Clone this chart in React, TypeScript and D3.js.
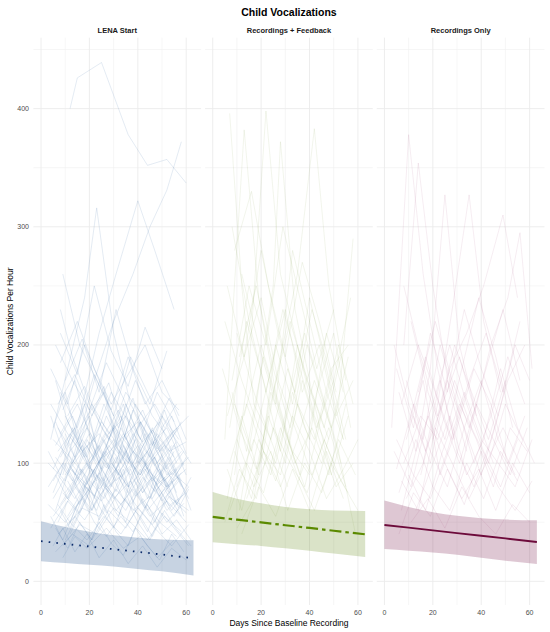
import React from 'react';
import * as d3 from 'd3';

// facet labels and colours
const panels = ['LENA Start', 'Recordings + Feedback', 'Recordings Only'];
const spaghettiColors = ['#4a7bb0', '#8aa64e', '#a24a7c'];
const spaghettiOpacity = [0.3, 0.22, 0.2];
const trendColors = ['#0c2c6b', '#5b8a00', '#6d0b3b'];
const ribbonColors = ['#1f4e8c', '#6b8e23', '#7b1e4e'];

const xTicks = [0, 20, 40, 60];
const yTicks = [0, 100, 200, 300, 400];

// per-child recordings: [day, vocalizations, day, vocalizations, ...]
const lenaKids: number[][] = [
  [12, 400, 15, 426, 25, 439, 36, 378, 44, 352, 52, 357, 60, 337],
  [4, 120, 11, 180, 18, 240, 23, 316, 30, 210, 37, 150, 45, 120, 52, 95, 58, 110],
  [9, 90, 16, 140, 24, 210, 31, 260, 40, 322, 47, 280, 55, 230],
  [6, 60, 14, 110, 22, 170, 30, 220, 38, 260, 45, 300, 52, 331, 58, 372],
  [8, 230, 13, 190, 20, 150, 28, 120, 35, 160, 42, 140, 50, 110, 57, 130],
  [5, 70, 12, 95, 19, 82, 26, 110, 33, 88, 40, 102, 47, 76, 54, 92, 61, 80],
  [7, 130, 14, 105, 21, 150, 28, 125, 35, 140, 42, 118, 49, 135, 56, 100],
  [10, 45, 17, 62, 24, 55, 31, 78, 38, 60, 45, 72, 52, 50, 59, 66],
  [3, 100, 10, 85, 17, 120, 24, 98, 31, 76, 38, 110, 45, 92, 52, 80, 60, 95],
  [8, 160, 15, 130, 22, 175, 29, 145, 36, 190, 43, 150, 50, 170, 57, 140],
  [11, 55, 18, 80, 25, 68, 32, 95, 39, 72, 46, 88, 53, 64, 60, 75],
  [6, 115, 13, 140, 20, 100, 27, 125, 34, 105, 41, 135, 48, 112, 55, 128],
  [9, 75, 16, 58, 23, 90, 30, 70, 37, 85, 44, 60, 51, 78, 58, 55],
  [4, 180, 11, 150, 18, 200, 25, 165, 32, 130, 39, 170, 46, 140, 53, 120],
  [12, 95, 19, 115, 26, 85, 33, 130, 40, 100, 47, 118, 54, 90, 61, 105],
  [7, 40, 14, 55, 21, 35, 28, 60, 35, 45, 42, 70, 49, 50, 56, 38],
  [10, 140, 17, 110, 24, 125, 31, 100, 38, 145, 45, 115, 52, 130, 59, 98],
  [5, 85, 12, 110, 19, 130, 26, 105, 33, 120, 40, 90, 47, 108, 54, 125, 62, 100],
  [8, 65, 15, 88, 22, 72, 29, 100, 36, 80, 43, 95, 50, 68, 57, 85],
  [13, 120, 20, 95, 27, 140, 34, 110, 41, 90, 48, 125, 55, 105],
  [6, 200, 13, 170, 20, 145, 27, 185, 34, 155, 41, 120, 48, 160, 55, 135],
  [9, 30, 16, 48, 23, 40, 30, 62, 37, 50, 44, 35, 51, 55, 58, 42],
  [4, 150, 11, 125, 18, 105, 25, 135, 32, 115, 39, 95, 46, 128, 53, 110, 60, 118],
  [11, 100, 18, 80, 25, 105, 32, 90, 39, 120, 46, 85, 53, 100, 59, 78],
  [7, 90, 14, 70, 21, 95, 28, 78, 35, 60, 42, 88, 49, 72, 56, 95],
  [10, 170, 17, 205, 24, 160, 31, 230, 38, 180, 45, 150, 52, 195],
  [5, 55, 12, 75, 19, 100, 26, 80, 33, 65, 40, 85, 47, 105, 54, 70, 61, 60],
  [8, 125, 15, 150, 22, 118, 29, 160, 36, 135, 43, 105, 50, 140, 57, 120],
  [14, 80, 21, 60, 28, 85, 35, 110, 42, 75, 49, 95, 56, 65, 62, 88],
  [6, 105, 13, 85, 20, 118, 27, 96, 34, 125, 41, 100, 48, 82, 55, 110],
  [9, 260, 16, 200, 23, 170, 30, 140, 37, 190, 44, 160, 51, 130],
  [3, 65, 10, 50, 17, 70, 24, 92, 31, 60, 38, 78, 45, 55, 52, 68, 60, 50],
  [11, 140, 18, 165, 25, 130, 32, 108, 39, 150, 46, 125, 53, 155, 60, 120],
  [7, 110, 14, 130, 21, 88, 28, 115, 35, 95, 42, 75, 49, 100, 56, 118],
  [12, 50, 19, 35, 26, 55, 33, 40, 40, 62, 47, 45, 54, 30, 61, 48],
  [5, 95, 12, 125, 19, 105, 26, 150, 33, 120, 40, 135, 47, 98, 54, 115],
  [10, 75, 17, 95, 24, 115, 31, 85, 38, 100, 45, 125, 52, 90, 59, 110],
  [8, 185, 15, 220, 22, 180, 29, 150, 36, 175, 43, 200, 50, 160, 57, 145],
  [6, 135, 13, 100, 20, 125, 27, 80, 34, 105, 41, 90, 48, 120, 55, 95],
  [13, 60, 20, 78, 27, 100, 34, 70, 41, 55, 48, 82, 55, 95, 61, 70],
  [4, 45, 11, 68, 18, 52, 25, 75, 32, 88, 39, 65, 46, 48, 53, 72, 60, 58],
  [9, 110, 16, 90, 23, 108, 30, 132, 37, 112, 44, 98, 51, 115, 58, 85],
  [7, 150, 14, 175, 21, 140, 28, 168, 35, 120, 42, 145, 49, 110, 56, 130],
  [10, 90, 17, 115, 24, 78, 31, 95, 38, 125, 45, 105, 52, 80, 59, 100],
  [5, 120, 12, 105, 19, 88, 26, 70, 33, 95, 40, 115, 47, 85, 54, 60, 61, 80],
  [11, 70, 18, 90, 25, 120, 32, 145, 39, 110, 46, 90, 53, 75],
  [6, 25, 13, 40, 20, 30, 27, 45, 34, 28, 41, 38, 48, 20, 55, 35],
  [8, 210, 15, 175, 22, 250, 29, 195, 36, 165, 43, 215, 50, 180],
  [12, 115, 19, 140, 26, 160, 33, 100, 40, 130, 47, 150, 54, 125, 61, 140],
  [3, 80, 9, 100, 16, 75, 23, 98, 30, 120, 37, 90, 44, 110, 51, 85, 58, 100],
  [5, 30, 9, 45, 14, 25, 19, 40, 24, 20, 30, 35, 36, 15, 42, 30, 48, 12, 54, 28, 60, 18],
  [8, 60, 12, 45, 17, 70, 22, 50, 27, 38, 33, 55, 38, 42, 44, 65, 50, 40, 56, 52, 62, 35],
  [6, 90, 11, 70, 16, 95, 21, 60, 26, 85, 31, 105, 36, 75, 41, 95, 46, 70, 51, 88, 57, 62],
  [10, 35, 15, 55, 20, 80, 25, 60, 30, 45, 35, 70, 40, 50, 45, 35, 50, 58, 55, 45, 61, 30],
  [4, 140, 9, 110, 14, 90, 19, 120, 24, 100, 29, 80, 34, 115, 39, 95, 44, 70, 49, 100, 55, 85],
  [7, 50, 12, 72, 17, 95, 22, 70, 27, 110, 32, 90, 37, 65, 42, 80, 47, 105, 52, 78, 58, 92],
  [9, 20, 14, 38, 19, 28, 24, 50, 29, 32, 34, 22, 39, 45, 44, 30, 49, 18, 54, 40, 59, 25],
  [3, 110, 8, 90, 13, 130, 18, 105, 23, 85, 28, 120, 33, 140, 38, 100, 43, 125, 48, 95, 53, 80, 60, 105],
  [11, 85, 16, 65, 21, 100, 26, 120, 31, 95, 36, 80, 41, 110, 46, 130, 51, 100, 56, 75],
  [6, 170, 11, 135, 16, 115, 21, 140, 26, 165, 31, 120, 36, 100, 41, 135, 46, 115, 51, 145, 57, 110],
  [12, 40, 17, 62, 22, 85, 27, 58, 32, 75, 37, 95, 42, 68, 47, 50, 52, 72, 57, 88, 62, 60],
  [5, 75, 10, 100, 15, 80, 20, 60, 25, 88, 30, 72, 35, 50, 40, 78, 45, 95, 50, 70, 55, 55, 61, 78],
  [8, 105, 13, 125, 18, 150, 23, 115, 28, 95, 33, 130, 38, 155, 43, 120, 48, 100, 53, 118, 58, 135],
  [7, 65, 12, 50, 17, 75, 22, 95, 27, 70, 32, 55, 37, 85, 42, 105, 47, 80, 52, 60, 57, 70],
  [10, 125, 15, 100, 20, 80, 25, 105, 30, 130, 35, 110, 40, 85, 45, 70, 50, 95, 55, 115, 60, 90],
  [4, 55, 9, 35, 14, 60, 19, 80, 24, 52, 29, 70, 34, 95, 39, 60, 44, 42, 49, 68, 54, 85, 59, 55],
  [9, 145, 14, 170, 19, 130, 24, 100, 29, 125, 34, 150, 39, 115, 44, 95, 49, 120, 54, 140, 60, 108],
  [6, 45, 11, 28, 16, 50, 21, 35, 26, 65, 31, 42, 36, 30, 41, 55, 46, 38, 51, 60, 56, 44, 62, 30],
  [13, 95, 18, 75, 23, 60, 28, 90, 33, 110, 38, 80, 43, 62, 48, 85, 53, 105, 58, 80],
  [5, 130, 10, 160, 15, 120, 20, 140, 25, 95, 30, 115, 35, 150, 40, 125, 45, 105, 50, 130, 56, 150],
];

const feedbackKids: number[][] = [
  [7, 396, 12, 250, 17, 150, 24, 120, 31, 80],
  [5, 120, 13, 382, 19, 240, 26, 160, 33, 110, 40, 90],
  [9, 90, 15, 180, 22, 398, 28, 260, 35, 200, 42, 140, 50, 100],
  [11, 60, 18, 150, 25, 250, 28, 372, 34, 230, 41, 160, 48, 120],
  [20, 100, 27, 180, 35, 260, 42, 383, 48, 250, 55, 170],
  [6, 70, 12, 140, 19, 90, 26, 200, 33, 150, 40, 240, 47, 180, 54, 120],
  [8, 160, 14, 110, 21, 190, 28, 140, 36, 90, 43, 160, 50, 210, 57, 130],
  [10, 210, 17, 160, 24, 120, 31, 180, 38, 130, 45, 100, 52, 150, 58, 290],
  [5, 50, 11, 95, 18, 70, 25, 130, 32, 100, 39, 75, 46, 120, 53, 85, 60, 60],
  [7, 130, 14, 220, 21, 170, 28, 110, 35, 200, 42, 150, 49, 90, 56, 140],
  [12, 40, 19, 80, 26, 55, 33, 95, 40, 60, 47, 110, 54, 70],
  [6, 250, 13, 190, 20, 280, 27, 210, 34, 160, 41, 230, 48, 180, 55, 120],
  [9, 110, 16, 70, 23, 140, 30, 100, 37, 170, 44, 120, 51, 80, 58, 100],
  [4, 180, 11, 130, 18, 95, 25, 160, 32, 220, 39, 170, 46, 130, 53, 190],
  [10, 80, 17, 120, 24, 90, 31, 150, 38, 210, 45, 160, 52, 110, 59, 40],
  [8, 300, 15, 220, 22, 160, 29, 230, 36, 180, 43, 130, 50, 170, 57, 240],
  [13, 140, 20, 200, 27, 150, 34, 100, 41, 130, 48, 90, 55, 150],
  [6, 95, 12, 60, 19, 120, 26, 85, 33, 140, 40, 110, 47, 70, 54, 95, 60, 120],
  [11, 190, 18, 250, 25, 180, 32, 130, 39, 200, 46, 150, 53, 100],
  [7, 60, 14, 100, 21, 75, 28, 130, 35, 90, 42, 60, 49, 100, 56, 75],
  [9, 150, 16, 110, 23, 170, 30, 230, 37, 160, 44, 200, 51, 140, 58, 170],
  [5, 220, 12, 170, 19, 130, 26, 100, 33, 160, 40, 120, 47, 210, 54, 160],
  [10, 120, 17, 80, 24, 110, 31, 60, 38, 100, 45, 75, 52, 120, 59, 90],
  [8, 170, 15, 250, 22, 200, 29, 300, 36, 240, 43, 180, 50, 230],
  [14, 70, 21, 110, 28, 90, 35, 150, 42, 120, 49, 180, 56, 200],
  [6, 140, 13, 190, 20, 240, 27, 170, 34, 130, 41, 90, 48, 130, 55, 80],
  [12, 260, 19, 200, 26, 150, 33, 280, 40, 220, 47, 160, 54, 120],
  [7, 100, 14, 150, 21, 110, 28, 80, 35, 120, 42, 170, 49, 130, 56, 190],
  [10, 45, 17, 70, 24, 160, 31, 120, 38, 80, 45, 140, 52, 200, 58, 150],
  [9, 280, 16, 330, 23, 250, 30, 190, 37, 270, 44, 220, 51, 160],
];

const recordingKids: number[][] = [
  [3, 130, 10, 378, 16, 260, 22, 180, 29, 120],
  [8, 200, 14, 354, 20, 250, 27, 160, 34, 110],
  [7, 60, 13, 110, 19, 180, 25, 327, 31, 200, 38, 140],
  [15, 90, 22, 150, 28, 230, 35, 327, 41, 220, 48, 160],
  [20, 120, 27, 180, 34, 210, 41, 250, 49, 310, 55, 240],
  [30, 80, 37, 140, 44, 200, 51, 240, 56, 295, 61, 180],
  [5, 95, 12, 150, 19, 110, 26, 80, 33, 130, 40, 170, 47, 120, 54, 90],
  [9, 170, 16, 120, 23, 200, 30, 150, 37, 100, 44, 140, 51, 190, 58, 150],
  [6, 40, 12, 75, 19, 55, 26, 95, 33, 65, 40, 110, 47, 80, 54, 60, 61, 85],
  [11, 220, 18, 160, 25, 120, 32, 180, 39, 240, 46, 190, 53, 130],
  [4, 110, 11, 80, 18, 140, 25, 100, 32, 70, 39, 95, 46, 60, 53, 100, 60, 75],
  [8, 250, 15, 190, 22, 140, 29, 200, 36, 160, 43, 120, 50, 170],
  [13, 60, 20, 100, 27, 140, 34, 90, 41, 120, 48, 180, 55, 130, 62, 100],
  [7, 150, 14, 200, 21, 160, 28, 120, 35, 170, 42, 210, 49, 160, 56, 220],
  [10, 90, 17, 60, 24, 110, 31, 150, 38, 120, 45, 80, 52, 130, 59, 110],
  [5, 180, 12, 130, 19, 210, 26, 160, 33, 230, 40, 180, 47, 140],
  [9, 120, 16, 170, 23, 90, 30, 130, 37, 180, 44, 150, 51, 100, 58, 140],
  [6, 75, 13, 120, 20, 80, 27, 60, 34, 100, 41, 70, 48, 110, 55, 85],
  [12, 140, 19, 100, 26, 170, 33, 130, 40, 90, 47, 140, 54, 200, 60, 170],
  [8, 100, 15, 140, 22, 120, 29, 170, 36, 130, 43, 100, 50, 150, 57, 120],
  [11, 50, 18, 70, 25, 45, 32, 80, 39, 55, 46, 40, 53, 65, 60, 50],
  [4, 200, 10, 150, 17, 110, 24, 150, 31, 190, 38, 140, 45, 100],
  [14, 160, 21, 220, 28, 170, 35, 130, 42, 180, 49, 230, 56, 170],
  [7, 85, 14, 60, 21, 130, 28, 100, 35, 70, 42, 100, 49, 130, 56, 100],
  [10, 130, 17, 190, 24, 140, 31, 100, 38, 150, 45, 120, 52, 90, 59, 130],
  [6, 160, 13, 110, 20, 150, 27, 200, 34, 150, 41, 110, 48, 80, 55, 120],
  [9, 70, 16, 100, 23, 170, 30, 110, 37, 80, 44, 120, 51, 170, 58, 200],
  [5, 120, 12, 90, 19, 70, 26, 110, 33, 160, 40, 120, 47, 100, 54, 80, 61, 120],
];

const kidsByPanel = [lenaKids, feedbackKids, recordingKids];

// model fit: days, fitted values and confidence band per group
const fitDays = [0, 10, 20, 30, 40, 50, 63];
const fitLena = [34, 31.7, 29.5, 27.2, 25, 22.7, 19.5];
const fitFeedback = [54.5, 52.2, 49.9, 47.5, 45.2, 42.8, 39.8];
const fitRecording = [47.7, 45.4, 43.1, 40.8, 38.6, 36.3, 33.3];
const upperLena = [50.8, 46, 42, 39, 37, 35.5, 34.7];
const lowerLena = [17, 15.5, 14, 12.5, 10.5, 8.5, 5];
const upperFeedback = [75.7, 70, 66, 63, 61, 60, 59.6];
const lowerFeedback = [33, 31.5, 30, 28, 26, 23.5, 20.6];
const upperRecording = [68.4, 63, 58.5, 55.5, 53.5, 52.3, 51.7];
const lowerRecording = [27.4, 26, 24.5, 22.5, 20, 17.5, 14.7];

const fits = [fitLena, fitFeedback, fitRecording];
const uppers = [upperLena, upperFeedback, upperRecording];
const lowers = [lowerLena, lowerFeedback, lowerRecording];
const dashes = ['1.6 6.1', '12 4 3.5 4', undefined];

const W = 550;
const H = 632;
const FONT = '"Liberation Sans", Arial, Helvetica, sans-serif';

const App: React.FC = () => {
  const panelLeft = 33.4;
  const panelW = 167.7;
  const gap = 4;
  const top = 37.7;
  const bottom = 605;

  const y = d3.scaleLinear().domain([-20, 460]).range([bottom, top]);
  const yMinor = [50, 150, 250, 350, 450];
  const xMinor = [10, 30, 50];

  const centerX = panelLeft + (3 * panelW + 2 * gap) / 2;

  return (
    <div style={{ position: 'absolute', left: 0, top: 0 }}>
      <svg width={W} height={H} style={{ display: 'block', background: '#fff' }} fontFamily={FONT}>
        <text x={centerX} y={16} textAnchor="middle" fontSize={10.5} fontWeight="bold" fill="#000">
          Child Vocalizations
        </text>

        {/* y axis title */}
        <text
          transform={`translate(13,${(top + bottom) / 2}) rotate(-90)`}
          textAnchor="middle"
          fontSize={8.5}
          fill="#000"
        >
          Child Vocalizations Per Hour
        </text>
        {yTicks.map(t => (
          <text key={t} x={29} y={y(t) + 2.5} textAnchor="end" fontSize={7} fill="#4d4d4d">
            {t}
          </text>
        ))}

        <text x={centerX} y={626} textAnchor="middle" fontSize={8.5} fill="#000">
          Days Since Baseline Recording
        </text>

        {panels.map((name, i) => {
          const left = panelLeft + i * (panelW + gap);
          const x = d3.scaleLinear().domain([-3.15, 66.15]).range([left, left + panelW]);
          const line = d3
            .line<[number, number]>()
            .x(d => x(d[0]))
            .y(d => y(d[1]));
          const area = d3
            .area<number>()
            .x((d, k) => x(fitDays[k]))
            .y0((d, k) => y(lowers[i][k]))
            .y1(d => y(d))
            .curve(d3.curveMonotoneX);
          const fitLine = d3
            .line<number>()
            .x((d, k) => x(fitDays[k]))
            .y(d => y(d));

          return (
            <g key={name}>
              {/* grid */}
              {yMinor.map(v => (
                <line key={'ym' + v} x1={left} x2={left + panelW} y1={y(v)} y2={y(v)} stroke="#f0f0f0" strokeWidth={0.6} />
              ))}
              {xMinor.map(v => (
                <line key={'xm' + v} x1={x(v)} x2={x(v)} y1={top} y2={bottom} stroke="#f0f0f0" strokeWidth={0.6} />
              ))}
              {yTicks.map(v => (
                <line key={'y' + v} x1={left} x2={left + panelW} y1={y(v)} y2={y(v)} stroke="#ebebeb" strokeWidth={0.9} />
              ))}
              {xTicks.map(v => (
                <line key={'x' + v} x1={x(v)} x2={x(v)} y1={top} y2={bottom} stroke="#ebebeb" strokeWidth={0.9} />
              ))}

              {/* individual children */}
              {kidsByPanel[i].map((kid, k) => {
                const pts: [number, number][] = [];
                for (let j = 0; j < kid.length; j += 2) pts.push([kid[j], kid[j + 1]]);
                return (
                  <path
                    key={k}
                    d={line(pts) || ''}
                    fill="none"
                    stroke={spaghettiColors[i]}
                    strokeOpacity={spaghettiOpacity[i]}
                    strokeWidth={0.5}
                  />
                );
              })}

              {/* confidence band and fitted line */}
              <path d={area(uppers[i]) || ''} fill={ribbonColors[i]} fillOpacity={0.25} stroke="none" />
              <path
                d={fitLine(fits[i]) || ''}
                fill="none"
                stroke={trendColors[i]}
                strokeWidth={i === 1 ? 2.2 : 1.8}
                strokeDasharray={dashes[i]}
              />

              {/* strip label */}
              <text x={left + panelW / 2} y={33} textAnchor="middle" fontSize={7.5} fontWeight="bold" fill="#1a1a1a">
                {name}
              </text>

              {xTicks.map(t => (
                <text key={'xt' + t} x={x(t)} y={615} textAnchor="middle" fontSize={7} fill="#4d4d4d">
                  {t}
                </text>
              ))}
            </g>
          );
        })}
      </svg>
    </div>
  );
};

export default App;
